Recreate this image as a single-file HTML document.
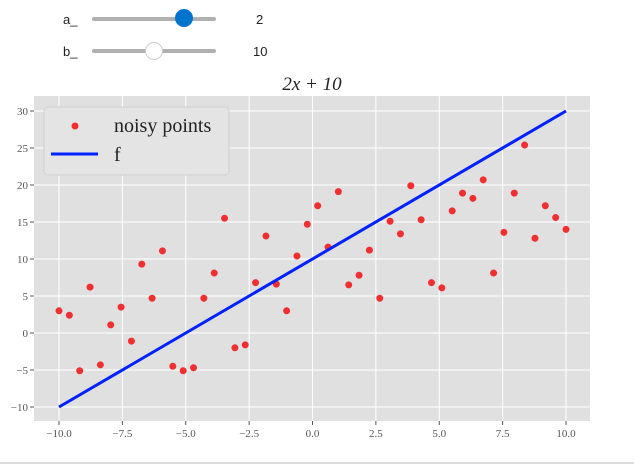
<!DOCTYPE html>
<html><head><meta charset="utf-8"><style>
body{margin:0;width:634px;height:464px;background:#fff;font-family:"Liberation Sans",sans-serif;overflow:hidden;position:relative}
.lbl{position:absolute;font-size:13px;color:#222}
.track{position:absolute;height:4px;background:#b0b0b0;border-radius:2px}
.knob{position:absolute;border-radius:50%}
svg text{font-family:"Liberation Serif","DejaVu Serif",serif}
</style></head><body>
<div class="lbl" style="left:63px;top:12px">a_</div>
<div class="track" style="left:92px;top:17px;width:124px"></div>
<div class="knob" style="left:175px;top:9px;width:18px;height:18px;background:#0074cc"></div>
<div class="lbl" style="left:256px;top:12px">2</div>
<div class="lbl" style="left:63px;top:44px">b_</div>
<div class="track" style="left:92px;top:49px;width:124px"></div>
<div class="knob" style="left:145px;top:42px;width:16px;height:16px;background:#fff;border:1px solid #ccc"></div>
<div class="lbl" style="left:253px;top:44px">10</div>
<div style="position:absolute;left:0;top:462px;width:634px;height:2px;background:#ddd"></div>
<svg id="chart" width="634" height="464" style="position:absolute;left:0;top:0"></svg>
<script>
const xTicks=[-10,-7.5,-5,-2.5,0,2.5,5,7.5,10];
const yTicks=[-10,-5,0,5,10,15,20,25,30];
const xTickLabels=["\u221210.0","\u22127.5","\u22125.0","\u22122.5","0.0","2.5","5.0","7.5","10.0"];
const yTickLabels=["\u221210","\u22125","0","5","10","15","20","25","30"];
const pointsY=[3.0,2.4,-5.1,6.2,-4.3,1.1,3.5,-1.1,9.3,4.7,11.1,-4.5,-5.1,-4.7,4.7,8.1,15.5,-2.0,-1.6,6.8,13.1,6.6,3.0,10.4,14.7,17.2,11.6,19.1,6.5,7.8,11.2,4.7,15.1,13.4,19.9,15.3,6.8,6.1,16.5,18.9,18.2,20.7,8.1,13.6,18.9,25.4,12.8,17.2,15.6,14.0];
const slopeA=2, interceptB=10;
const ns="http://www.w3.org/2000/svg",svg=document.getElementById('chart');
const L=34,R=590,T=96,B=421;
const sx=v=>59+(v+10)*(566-59)/20;
const sy=v=>333-v*7.4;
function mk(t,a,p){const e=document.createElementNS(ns,t);for(const k in a)e.setAttribute(k,a[k]);(p||svg).appendChild(e);return e;}
let bg=mk('rect',{x:L,y:T,width:R-L,height:B-T,fill:'#e0e0e0'});


xTicks.forEach((v,i)=>{
 const g=mk('line',{x1:sx(v),x2:sx(v),y1:T,y2:B,stroke:'#fff','stroke-width':1});
 
 
 mk('line',{x1:sx(v),x2:sx(v),y1:B,y2:B+4,stroke:'#555'});
 const t=mk('text',{x:sx(v),y:B+16,'text-anchor':'middle','font-size':11,fill:'#555'});t.textContent=xTickLabels[i];
 
 
});
yTicks.forEach((v,i)=>{
 const g=mk('line',{x1:L,x2:R,y1:sy(v),y2:sy(v),stroke:'#fff','stroke-width':1});
 
 
 mk('line',{x1:L-4,x2:L,y1:sy(v),y2:sy(v),stroke:'#555'});
 const t=mk('text',{x:L-6,y:sy(v)+4,'text-anchor':'end','font-size':11,fill:'#555'});t.textContent=yTickLabels[i];
 
 
});
pointsY.forEach((v,i)=>{
 const x=-10+20*i/(pointsY.length-1);
 const c=mk('circle',{cx:sx(x),cy:sy(v),r:3.5,fill:'#f03030'});
 
 
});
const ln=mk('line',{x1:sx(-10),y1:sy(slopeA*-10+interceptB),x2:sx(10),y2:sy(slopeA*10+interceptB),stroke:'#0022ff','stroke-width':3});


const tt=mk('text',{x:312,y:90,'text-anchor':'middle','font-size':19,'font-style':'italic',fill:'#222'});tt.textContent='2x + 10';


const lg=mk('g',{});


mk('rect',{x:44,y:107,width:185,height:68,rx:4,fill:'#e4e4e4',stroke:'#d0d0d0'},lg);
mk('circle',{cx:75,cy:126,r:3.5,fill:'#f03030'},lg);
mk('line',{x1:51,x2:98,y1:154,y2:154,stroke:'#0022ff','stroke-width':3},lg);
let t1=mk('text',{x:114,y:132,'font-size':20,fill:'#222'},lg);t1.textContent='noisy points';


let t2=mk('text',{x:114,y:161,'font-size':20,fill:'#222'},lg);t2.textContent='f';


</script>
</body></html>
